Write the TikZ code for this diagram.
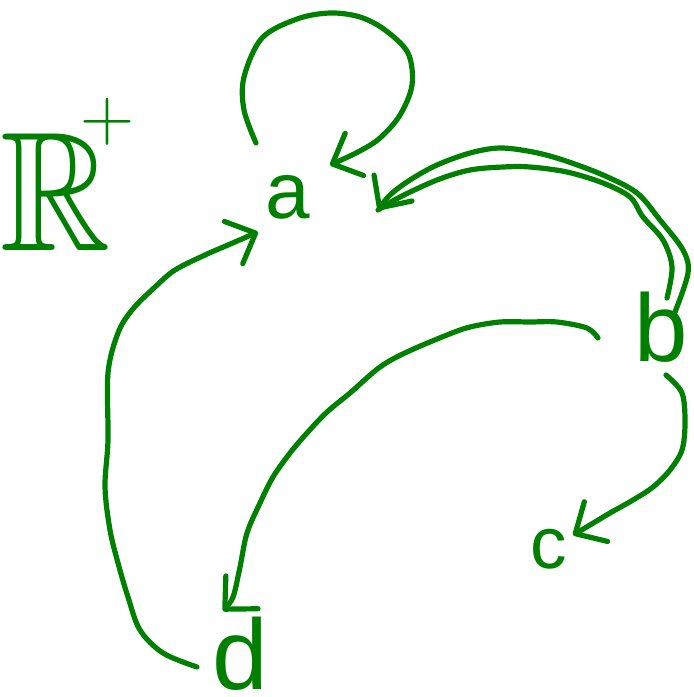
\documentclass[tikz,border=0pt]{standalone}
\usepackage{fontspec}
\usepackage{amssymb}
\usetikzlibrary{arrows.meta,calc}
\newfontfamily\letterfont{Liberation Sans}
\definecolor{ink}{RGB}{0,128,0}
\begin{document}
\begin{tikzpicture}[x=1pt,y=-1pt,
  stroke/.style={draw=ink,line width=5.2pt,line cap=round,line join=round},
  arr/.style={stroke,-{Straight Barb[length=24pt,width=46pt,round]}},
  letter/.style={inner sep=0pt,anchor=base,text=ink,font={\letterfont\fontsize{#1}{#1}\selectfont}},
  curve/.style={smooth,tension=0.55}]
\useasboundingbox (0,0) rectangle (694,697);

% vertices
\node[letter=80]  (a) at (288,218) {a};
\node[letter=96]  (b) at (661,361) {b};
\node[letter=73]  (c) at (549,568) {c};
\node[letter=100] (d) at (240,689) {d};
\node[anchor=base west,inner sep=0pt,text=ink,font={\fontsize{170}{170}\selectfont}] (reals) at (0,250)
  {\scalebox{0.9}[1]{$\mathbb{R}$}\kern-30pt\raisebox{110pt}{\fontsize{75}{75}\selectfont +}};

% attachment points of the arcs
\path (a.base) ++(-32,-75) coordinate (a-loop-out)
      (a.base) ++(42,-53)  coordinate (a-loop-in)
      (a.base) ++(90,-8)   coordinate (a-from-b)
      (a.base) ++(-30,14)  coordinate (a-from-d)
      (b.base) ++(14,-49)  coordinate (b-out1)
      (b.base) ++(6,-63)   coordinate (b-out2)
      (b.base) ++(5,14)    coordinate (b-to-c)
      (b.base) ++(-63,-23) coordinate (b-to-d)
      (c.base) ++(24,-33)  coordinate (c-in)
      (d.base) ++(-17,-78) coordinate (d-in)
      (d.base) ++(-43,-22) coordinate (d-out);

% a -> a
\draw[arr] plot[curve] coordinates {(a-loop-out) (244,110) (244,77) (262,38) (297,19) (330,13)
  (360,17) (385,30) (408,53) (412,85) (400,115) (380,138) (358,152) (a-loop-in)};

% b -> a (double stroke)
\draw[arr] plot[curve] coordinates {(b-out1) (688,273) (683,250) (660,220) (637,193) (603,175)
  (563,160) (533,152) (500,148) (470,153) (437,165) (410,180) (390,195) (a-from-b)};
\draw[stroke] plot[curve] coordinates {(b-out2) (672,267) (663,240) (643,217) (630,197) (603,183)
  (567,172) (530,167) (503,167) (470,170) (437,180) (400,197) (a-from-b)};

% b -> c
\draw[arr] plot[curve] coordinates {(b-to-c) (682,393) (685,423) (682,450) (670,470) (653,487)
  (633,500) (610,513) (590,525) (c-in)};

% b -> d
\draw[arr] plot[curve] coordinates {(b-to-d) (587,328) (557,322) (530,322) (500,322) (470,327)
  (447,335) (407,352) (380,367) (350,393) (327,412) (307,433) (290,453) (273,477) (260,503)
  (247,533) (240,567) (233,597) (d-in)};

% d -> a
\draw[arr] plot[curve] coordinates {(d-out) (163,653) (140,630) (128,597) (118,563) (110,530)
  (105,487) (108,440) (108,373) (118,333) (132,310) (155,287) (175,270) (205,255) (228,245)
  (a-from-d)};
\end{tikzpicture}
\end{document}
